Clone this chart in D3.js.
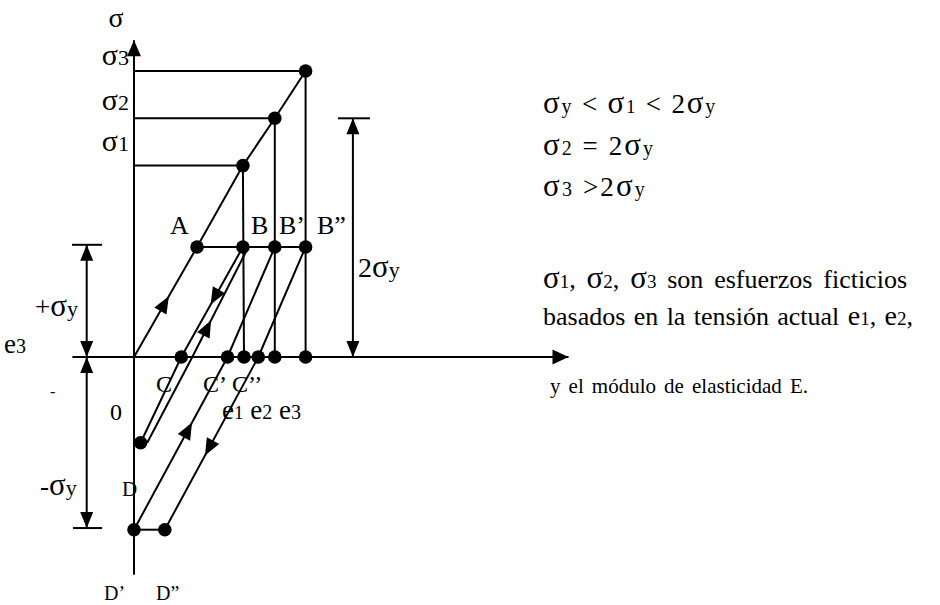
<!DOCTYPE html>
<html><head><meta charset="utf-8">
<script src="https://cdn.jsdelivr.net/npm/d3@7"></script>
<style>html,body{margin:0;padding:0;background:#fff;} svg{display:block;}</style>
</head><body>
<svg id="c" width="940" height="605"></svg>
<script>
// ---------- data (diagram units: strain e on x, stress in units of σy on y) ----------
const pointNames = ["O","A","B","B'","B''","S1","S2","S3","Y1","Y2","Y3","C","C'","E1","C''","E2","E3","D","D'","D''","Br","Cr","Dr"];
const pointE     = [0, 0.573, 0.99, 1.28, 1.56, 0.99, 1.28, 1.56, 0, 0, 0, 0.43, 0.85, 1.0, 1.13, 1.28, 1.56, 0.06, 0, 0.28, 1.04, 0.53, 0.12];
const pointS     = [0, 1, 1, 1, 1, 1.74, 2.17, 2.6, 1.74, 2.17, 2.6, 0, 0, 0, 0, 0, 0, -0.78, -1.57, -1.57, 1, 0, -0.78];
const dotNames   = ["A","B","B'","B''","S1","S2","S3","C","C'","E1","C''","E2","E3","D","D'","D''"];
const pathList   = [
  ["O","A","S1","S2","S3"], ["A","B''"], ["Y1","S1"], ["Y2","S2"], ["Y3","S3"],
  ["S1","E1"], ["S2","E2"], ["S3","E3"],
  ["B","C","D"], ["Br","Cr","Dr"], ["D'","C'","B'"], ["B''","C''","D''"], ["D'","D''"]
];
const arrowSegs  = [["O","A"], ["B","C"], ["Cr","Br"], ["D'","C'"], ["C''","D''"]];
const arrowT     = [0.49, 0.46, 0.27, 0.58, 0.53];
const xAxisRange = [-0.56, 3.95];
const yAxisRange = [-1.98, 2.88];
const dimE       = [-0.43, -0.43, 1.99];
const dimS0      = [0, 0, 0];
const dimS1      = [1.02, -1.555, 2.17];
const dimBar     = [[-0.564, -0.29], [-0.555, -0.29], [1.855, 2.145]];

// ---------- scales ----------
const x = d3.scaleLinear().domain([0, 1]).range([134, 244]);
const y = d3.scaleLinear().domain([0, 1]).range([357, 247]);
const P = {};
pointNames.forEach((n, i) => P[n] = [pointE[i], pointS[i]]);

const svg = d3.select("#c");
const FONT = "'Liberation Serif','Times New Roman',serif";
const SW = 2;
svg.append("rect").attr("width", 940).attr("height", 605).attr("fill", "#fff");

const g = svg.append("g");
const line = d3.line().x(d => x(d[0])).y(d => y(d[1]));

function arrowHead(tx, ty, ang, len = 16, hw = 6.5) {
  const c = Math.cos(ang), s = Math.sin(ang);
  const bx = tx - len * c, by = ty - len * s;
  const pts = [[tx, ty], [bx - hw * s, by + hw * c], [bx + hw * s, by - hw * c]];
  g.append("path").attr("d", "M" + pts.map(p => p.join(",")).join("L") + "Z").attr("fill", "#000");
}

// axes
g.append("path").attr("d", line([[xAxisRange[0], 0], [xAxisRange[1], 0]])).attr("stroke", "#000").attr("stroke-width", SW).attr("fill", "none");
arrowHead(x(xAxisRange[1]), y(0), 0, 16, 7.5);
g.append("path").attr("d", line([[0, yAxisRange[0]], [0, yAxisRange[1]]])).attr("stroke", "#000").attr("stroke-width", SW).attr("fill", "none");
arrowHead(x(0), y(yAxisRange[1]), -Math.PI / 2, 16, 7);

// curves
pathList.forEach(p => {
  g.append("path").attr("d", line(p.map(n => P[n]))).attr("stroke", "#000").attr("stroke-width", SW).attr("fill", "none");
});

// arrows along curves
arrowSegs.forEach((sg, i) => {
  const a = P[sg[0]], b = P[sg[1]];
  const ax = x(a[0]), ay = y(a[1]), bx = x(b[0]), by = y(b[1]);
  const t = arrowT[i];
  const cx = ax + (bx - ax) * t, cy = ay + (by - ay) * t;
  const ang = Math.atan2(by - ay, bx - ax);
  arrowHead(cx + 8 * Math.cos(ang), cy + 8 * Math.sin(ang), ang, 17, 7);
});

// dimension lines
dimE.forEach((e, i) => {
  g.append("path").attr("d", line([[e, dimS0[i]], [e, dimS1[i]]])).attr("stroke", "#000").attr("stroke-width", SW).attr("fill", "none");
  g.append("path").attr("d", line([[dimBar[i][0], dimS1[i]], [dimBar[i][1], dimS1[i]]])).attr("stroke", "#000").attr("stroke-width", SW).attr("fill", "none");
  const up = dimS1[i] > dimS0[i];
  arrowHead(x(e), y(dimS1[i]), up ? -Math.PI / 2 : Math.PI / 2, 16, 6.5);
  arrowHead(x(e), y(dimS0[i]), up ? Math.PI / 2 : -Math.PI / 2, 16, 6.5);
});

// dots
g.selectAll("circle.d").data(dotNames).enter().append("circle")
  .attr("cx", n => x(P[n][0])).attr("cy", n => y(P[n][1])).attr("r", 6.8).attr("fill", "#000");

// ---------- text ----------
function rich(px, py, parts, anchor = "start", opts = {}) {
  const t = svg.append("text").attr("x", px).attr("y", py).attr("text-anchor", anchor)
    .attr("font-family", FONT).attr("fill", "#000");
  parts.forEach(p => {
    t.append("tspan").attr("font-size", p[1]).text(p[0]);
  });
  const str = parts.map(p => p[0]).join("");
  if (opts.width) {
    const len = t.node().getComputedTextLength();
    const nsp = (str.match(/ /g) || []).length;
    if (nsp > 0) t.attr("word-spacing", Math.max(0, (opts.width - len) / nsp));
  }
  if (opts.spread) {
    const len = t.node().getComputedTextLength();
    const n = str.length;
    if (n > 1) t.attr("letter-spacing", Math.max(0, (opts.spread - len) / n));
  }
  return t;
}

rich(116, 27, [["σ", 28]], "middle");
rich(129, 65, [["σ", 30], ["3", 22]], "end");
rich(129, 110, [["σ", 30], ["2", 22]], "end");
rich(129, 151, [["σ", 30], ["1", 22]], "end");
rich(170, 234, [["A", 26]]);
rich(251, 234, [["B", 26]]);
rich(279, 234, [["B’", 26]]);
rich(317, 234, [["B”", 26]]);
rich(358, 277, [["2", 28], ["σ", 31], ["y", 22]]);
rich(35, 316, [["+", 27], ["σ", 31], ["y", 22]]);
rich(4, 353, [["e", 27], ["3", 20]]);
rich(50, 397, [["-", 16]]);
rich(110, 420, [["0", 24]]);
rich(156, 392, [["C", 24]]);
rich(203, 392, [["C’", 24]]);
rich(232, 392, [["C’’", 24]]);
rich(222, 419, [["e", 27], ["1", 19], [" e", 27], ["2", 20], [" e", 27], ["3", 20]]);
rich(40, 495, [["-", 27], ["σ", 31], ["y", 22]]);
rich(122, 496, [["D", 21]]);
rich(104, 600, [["D’", 20]]);
rich(156, 600, [["D”", 20]]);

// right-hand notes
rich(543, 113, [["σ", 31], ["y", 20], [" < ", 27], ["σ", 31], ["1", 19], [" < 2", 27], ["σ", 31], ["y", 20]], "start", {spread: 174});
rich(543, 155, [["σ", 31], ["2", 20], [" = 2", 27], ["σ", 31], ["y", 20]], "start", {spread: 112});
rich(543, 196, [["σ", 31], ["3", 20], [" >2", 27], ["σ", 31], ["y", 20]], "start", {spread: 104});
rich(543, 288, [["σ", 31], ["1", 19], [", ", 26], ["σ", 31], ["2", 19], [", ", 26], ["σ", 31], ["3", 19], [" son esfuerzos ficticios", 26]], "start", {width: 364});
rich(543, 325, [["basados en la tensión actual ", 26], ["e", 28], ["1", 19], [", ", 26], ["e", 28], ["2", 19], [",", 26]], "start", {width: 370});
rich(550, 393, [["y el módulo de elasticidad E.", 21]], "start", {width: 258});
</script>
</body></html>
